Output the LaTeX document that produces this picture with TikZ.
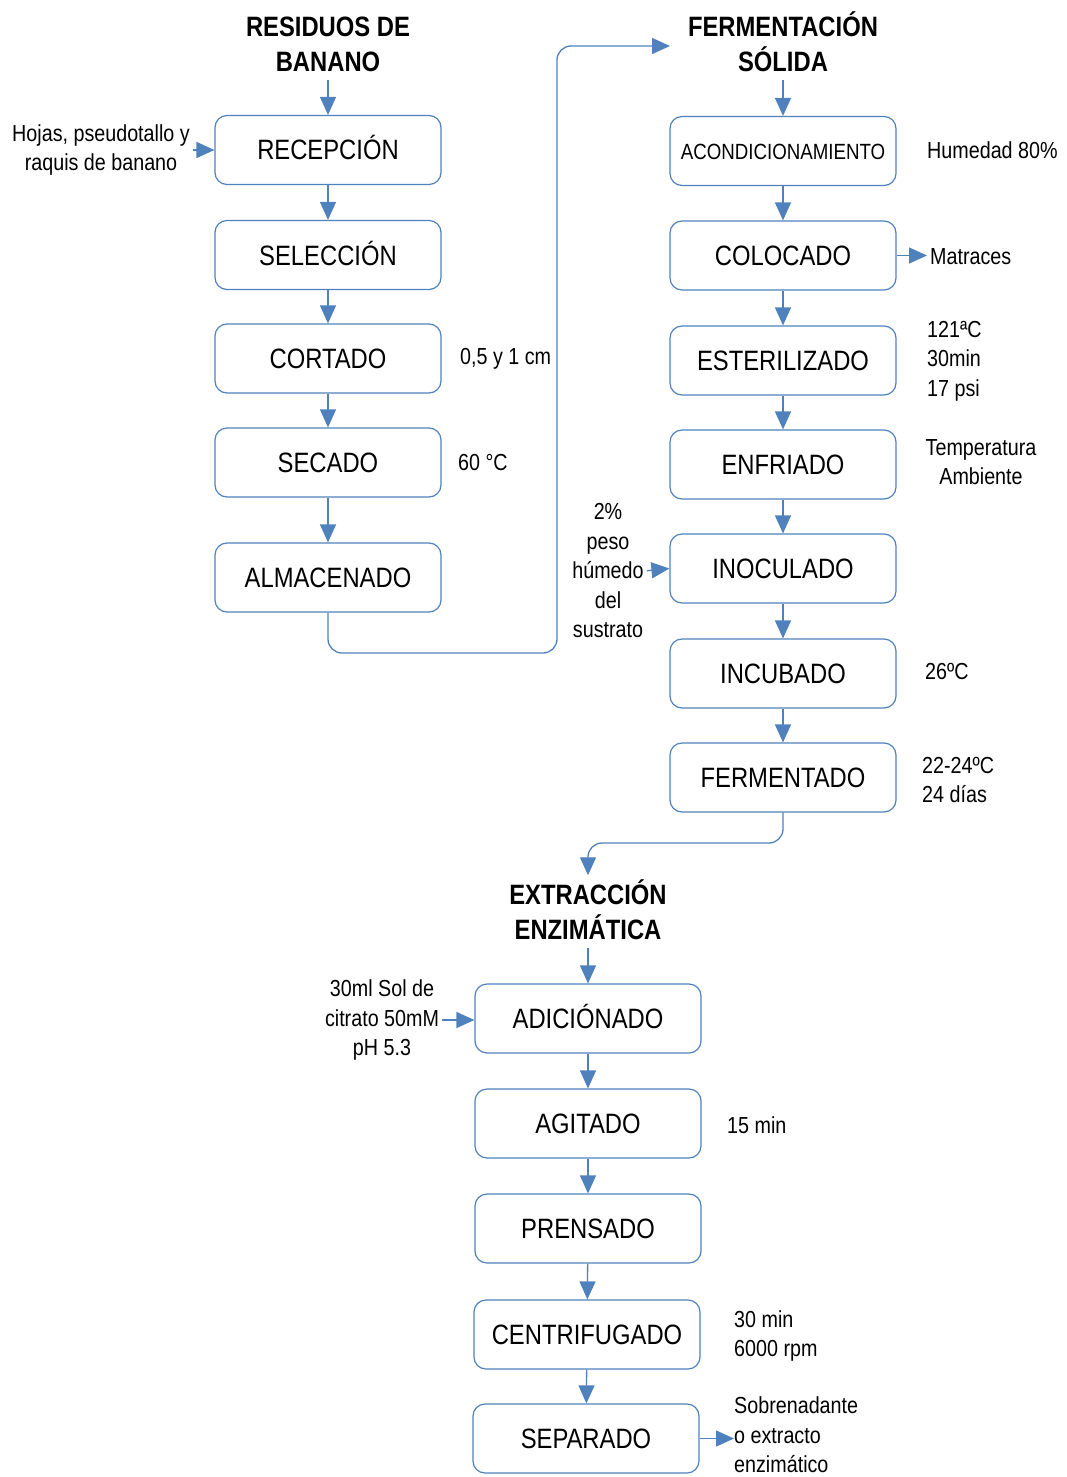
\documentclass[tikz,border=0pt]{standalone}
\usepackage{fontspec}
\setmainfont{Liberation Sans}[FakeStretch=0.85]
\usetikzlibrary{arrows.meta}
\definecolor{flow}{RGB}{79,129,189}
\begin{document}
\begin{tikzpicture}[x=1pt,y=-1pt,
  stepbox/.style={draw=flow, line width=1.2pt, rounded corners=12pt,
    minimum width=226pt, minimum height=69pt, inner sep=0pt,
    text height=20pt, text depth=0pt,
    font=\fontsize{28}{34}\selectfont},
  title/.style={align=center, inner sep=0pt,
    font=\bfseries\fontsize{28}{35}\selectfont},
  note/.style={inner sep=0pt, font=\fontsize{23.2}{29.5}\selectfont},
  flowarrow/.style={draw=flow, line width=1.3pt,
    -{Triangle[length=18pt,width=16pt]}},
  sidearrow/.style={flowarrow, shorten <=3pt},
  conn/.style={flowarrow, rounded corners=14pt}]
\useasboundingbox (0,0) rectangle (1067,1477);

% --- Residuos de banano ---
\node[title] (tres) at (328,44.5) {RESIDUOS DE\\BANANO};
\node[stepbox] (recep) at (328,150) {RECEPCIÓN};
\node[stepbox] (selec) at (328,255) {SELECCIÓN};
\node[stepbox] (cort)  at (328,358.5) {CORTADO};
\node[stepbox] (sec)   at (328,462.5) {SECADO};
\node[stepbox] (alm)   at (328,577.5) {ALMACENADO};

\node[note, align=center] (hojas) at (101,150) {Hojas, pseudotallo y\\raquis de banano};
\node[note, anchor=west] (cm) at (460,359) {0,5 y 1 cm};
\node[note, anchor=west] (temp60) at (458,463) {60 °C};

\draw[flowarrow, shorten <=8pt] (tres.south) -- (recep.north);
\draw[flowarrow] (recep) -- (selec);
\draw[flowarrow] (selec) -- (cort);
\draw[flowarrow] (cort) -- (sec);
\draw[flowarrow] (sec) -- (alm);
\draw[sidearrow] (hojas.east) -- (recep.west);

% --- Fermentación sólida ---
\node[title] (tfs) at (783,41.5) {FERMENTACIÓN\\SÓLIDA};
\coordinate (fsin) at (670,46);
\node[stepbox, text height=16pt, font=\fontsize{22}{26}\selectfont] (acond) at (783,151) {ACONDICIONAMIENTO};
\node[stepbox] (coloc) at (783,255.5) {COLOCADO};
\node[stepbox] (ester) at (783,360.5) {ESTERILIZADO};
\node[stepbox] (enfr)  at (783,464.5) {ENFRIADO};
\node[stepbox] (inoc)  at (783,568.5) {INOCULADO};
\node[stepbox] (incub) at (783,673.5) {INCUBADO};
\node[stepbox] (ferm)  at (783,777.5) {FERMENTADO};

\node[note, anchor=west] (hum) at (927,150) {Humedad 80\%};
\node[note, anchor=west] (matr) at (930,257) {Matraces};
\node[note, anchor=west, align=left] (ester-c) at (927,361) {121ªC\\30min\\17 psi};
\node[note, align=center] (amb) at (981,462) {Temperatura\\Ambiente};
\node[note, align=center] (peso) at (608,571) {2\%\\peso\\húmedo\\del\\sustrato};
\node[note, anchor=west] (t26) at (925,671) {26ºC};
\node[note, anchor=west, align=left] (ferm-c) at (922,780) {22-24ºC\\24 días};

\draw[conn] (alm.south) -- (328,653) -- (557,653) -- (557,46) -- (fsin);
\draw[flowarrow, shorten <=8pt] (tfs.south) -- (acond.north);
\draw[flowarrow] (acond) -- (coloc);
\draw[flowarrow] (coloc) -- (ester);
\draw[flowarrow] (ester) -- (enfr);
\draw[flowarrow] (enfr) -- (inoc);
\draw[flowarrow] (inoc) -- (incub);
\draw[flowarrow] (incub) -- (ferm);
\draw[flowarrow, shorten >=3pt] (coloc.east) -- (coloc.east -| matr.west);
\draw[sidearrow] (peso.east) -- (inoc.west);

% --- Extracción enzimática ---
\node[title] (tee) at (588,909.5) {EXTRACCIÓN\\ENZIMÁTICA};
\node[stepbox] (adic)  at (588,1018.5) {ADICIÓNADO};
\node[stepbox] (agit)  at (588,1123.5) {AGITADO};
\node[stepbox] (prens) at (588,1228.5) {PRENSADO};
\node[stepbox] (centr) at (587,1334.5) {CENTRIFUGADO};
\node[stepbox] (separ) at (586,1438.5) {SEPARADO};

\node[note, align=center] (citr) at (382,1020) {30ml Sol de\\citrato 50mM\\pH 5.3};
\node[note, anchor=west] (t15) at (727,1125) {15 min};
\node[note, anchor=west, align=left] (centr-c) at (734,1336) {30 min\\6000 rpm};
\node[note, anchor=west, align=left] (sobre) at (734,1435) {Sobrenadante\\o extracto\\enzimático};

\draw[conn] (ferm.south) -- (783,843) -- (588,843) -- ([yshift=4pt]tee.north);
\draw[flowarrow, shorten <=8pt] (tee.south) -- (adic.north);
\draw[flowarrow] (adic) -- (agit);
\draw[flowarrow] (agit) -- (prens);
\draw[flowarrow] (prens) -- (centr);
\draw[flowarrow] (centr) -- (separ);
\draw[sidearrow] (citr.east) -- (citr.east -| adic.west);
\draw[flowarrow] (separ.east) -- (separ.east -| sobre.west);
\end{tikzpicture}
\end{document}
